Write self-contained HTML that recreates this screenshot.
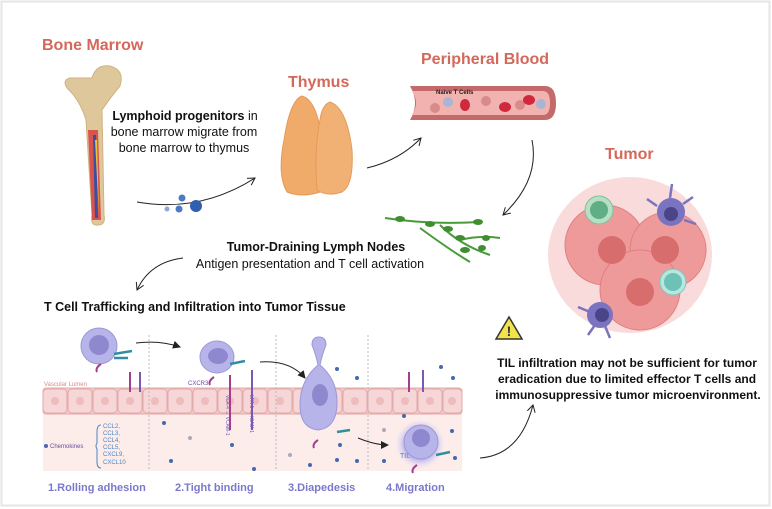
<!DOCTYPE html>
<html><head><meta charset="utf-8"><style>
html,body{margin:0;padding:0;background:#fff;}
svg{display:block;font-family:"Liberation Sans",sans-serif;}
</style></head><body>
<svg width="772" height="509" viewBox="0 0 772 509" xmlns="http://www.w3.org/2000/svg">
<defs>
<marker id="ah" markerWidth="10" markerHeight="10" refX="8" refY="5" orient="auto" markerUnits="userSpaceOnUse">
<path d="M1,1 L8,5 L1,9" fill="none" stroke="#222" stroke-width="1"/></marker>
<marker id="af" markerWidth="8" markerHeight="8" refX="7" refY="4" orient="auto" markerUnits="userSpaceOnUse">
<path d="M0,0 L8,4 L0,8z" fill="#222"/></marker>
<radialGradient id="glow"><stop offset="0.6" stop-color="#b9b6ee"/><stop offset="1" stop-color="#fdeeee" stop-opacity="0"/></radialGradient>
</defs>
<rect x="0" y="0" width="772" height="509" fill="#fff"/>
<rect x="1.5" y="1.5" width="768" height="504" fill="none" stroke="#e6e6e6" stroke-width="2"/>

<g fill="#d4685a" font-weight="bold">
<text x="42" y="50" font-size="16">Bone Marrow</text>
<text x="288" y="87" font-size="16">Thymus</text>
<text x="421" y="64" font-size="16">Peripheral Blood</text>
<text x="605" y="159" font-size="16">Tumor</text>
</g>

<path d="M67,88 Q62,80 70,78 L92,78 Q96,64 110,66 Q125,70 120,86 Q110,98 102,110 L104,215 Q106,225 98,225 Q90,226 92,215 L86,120 Q80,100 67,88z" fill="#dfc79c" stroke="#cfb282"/>
<path d="M88,130 L98,130 L101,220 L92,220z" fill="#d9544e"/>
<path d="M93,135 L96,135 L98,218 L95,218z" fill="#3a4fa0"/>
<path d="M95,140 L97,140 L99,216z" fill="#e8c43a"/>

<g font-size="12.5" fill="#111" text-anchor="middle">
<text x="185" y="120"><tspan font-weight="bold">Lymphoid progenitors</tspan> in</text>
<text x="184" y="136">bone marrow migrate from</text>
<text x="184" y="152">bone marrow to thymus</text>
</g>
<path d="M137,202 Q200,213 255,178" fill="none" stroke="#222" marker-end="url(#ah)"/>
<circle cx="182" cy="198" r="3.5" fill="#4b7bc4"/><circle cx="179" cy="209" r="3.5" fill="#4b7bc4"/>
<circle cx="167" cy="209" r="2.5" fill="#8aa8dc"/><circle cx="196" cy="206" r="6" fill="#2f5fad"/>

<path d="M302,96 Q317,100 322,140 Q327,180 320,192 Q302,198 287,192 Q277,175 284,140 Q290,100 302,96z" fill="#f0ab6a" stroke="#e49a5a"/>
<path d="M330,102 Q347,108 352,150 Q354,185 342,192 Q327,197 317,190 Q314,150 320,120 Q322,105 330,102z" fill="#f2b174" stroke="#e49a5a"/>

<path d="M410,86 L545,86 Q556,86 556,103 Q556,120 545,120 L410,120 Q420,103 410,86z" fill="#c46a6a"/>
<path d="M412,91 L543,91 Q550,91 550,103 Q550,115 543,115 L412,115 Q420,103 412,91z" fill="#f2b2b0"/>
<text x="436" y="94" font-size="6" font-weight="bold" fill="#222">Naive T Cells</text>
<circle cx="435" cy="108" r="5" fill="#d98a8a"/><circle cx="448" cy="102" r="5" fill="#a8b5d4"/>
<ellipse cx="465" cy="105" rx="5" ry="6" fill="#d0293d"/><circle cx="486" cy="101" r="5" fill="#d98a8a"/>
<ellipse cx="505" cy="107" rx="6" ry="5" fill="#d0293d"/><circle cx="520" cy="105" r="5" fill="#d98a8a"/>
<ellipse cx="529" cy="100" rx="6" ry="5" fill="#d0293d"/><circle cx="541" cy="104" r="5" fill="#a8b5d4"/>

<path d="M367,168 Q400,160 421,138" fill="none" stroke="#222" marker-end="url(#ah)"/>
<path d="M532,140 Q540,180 503,215" fill="none" stroke="#222" marker-end="url(#ah)"/>

<g stroke="#4a9a3a" stroke-width="2" fill="none">
<path d="M385,218 Q430,225 480,222"/><path d="M440,225 Q460,245 490,255"/><path d="M420,228 Q450,250 470,262"/><path d="M460,240 Q480,235 500,238"/>
</g>
<g fill="#3f8f30"><ellipse cx="400" cy="219" rx="5" ry="3"/><ellipse cx="430" cy="224" rx="5" ry="3"/><ellipse cx="448" cy="229" rx="5" ry="3"/><ellipse cx="460" cy="238" rx="5" ry="3"/><ellipse cx="478" cy="222" rx="5" ry="3"/><ellipse cx="465" cy="250" rx="5" ry="3"/><ellipse cx="482" cy="248" rx="4" ry="3"/><ellipse cx="486" cy="238" rx="4" ry="3"/></g>
<text x="316" y="251" font-size="12.5" font-weight="bold" fill="#111" text-anchor="middle">Tumor-Draining Lymph Nodes</text>
<text x="310" y="268" font-size="12.5" fill="#111" text-anchor="middle">Antigen presentation and T cell activation</text>
<path d="M183,258 Q150,262 137,290" fill="none" stroke="#222" marker-end="url(#ah)"/>
<text x="44" y="311" font-size="12.5" font-weight="bold" fill="#111">T Cell Trafficking and Infiltration into Tumor Tissue</text>

<g>
<ellipse cx="630" cy="255" rx="82" ry="78" fill="#f6cccc" opacity="0.7"/>
<circle cx="605" cy="245" r="40" fill="#ef9a9a" stroke="#e07f7f"/>
<circle cx="668" cy="250" r="38" fill="#ef9a9a" stroke="#e07f7f"/>
<circle cx="640" cy="290" r="40" fill="#ef9a9a" stroke="#e07f7f"/>
<circle cx="612" cy="250" r="14" fill="#d86d6d"/><circle cx="665" cy="250" r="14" fill="#d86d6d"/><circle cx="640" cy="292" r="14" fill="#d86d6d"/>
<circle cx="599" cy="210" r="14" fill="#b6dfc4" stroke="#7cc49a"/><circle cx="599" cy="210" r="9" fill="#5fae85"/>
<circle cx="673" cy="282" r="13" fill="#b8e6e0" stroke="#78c8bd"/><circle cx="673" cy="282" r="9" fill="#6cc2b4"/>
<circle cx="671" cy="212" r="14" fill="#7a73c0"/><circle cx="671" cy="214" r="7" fill="#4b4488"/>
<circle cx="600" cy="315" r="13" fill="#7a73c0"/><circle cx="602" cy="315" r="7" fill="#4b4488"/>
<g stroke="#7a73c0" stroke-width="2.5"><path d="M670,198 L672,184M683,204 L693,197M684,220 L696,224M657,206 L647,199M590,312 L578,307M605,326 L610,338M595,325 L588,335"/></g>
</g>

<path d="M496,339 L509,317 L522,339z" fill="#f2e34a" stroke="#333" stroke-width="1.5"/>
<text x="509" y="336" font-size="14" font-weight="bold" text-anchor="middle" fill="#333">!</text>
<g font-size="12" font-weight="bold" fill="#111" text-anchor="middle">
<text x="627" y="367">TIL infiltration may not be sufficient for tumor</text>
<text x="627" y="383">eradication due to limited effector T cells and</text>
<text x="628" y="399">immunosuppressive tumor microenvironment.</text>
</g>
<path d="M480,458 Q520,455 533,405" fill="none" stroke="#222" marker-end="url(#ah)"/>

<rect x="43" y="412" width="419" height="59" fill="#fcecea"/>
<rect x="43" y="388" width="419" height="26" rx="3" fill="#f2c9c9" stroke="#e3aaaa"/>
<g fill="#f6d6d6" stroke="#e3aaaa">
<rect x="43" y="389" width="24" height="24" rx="4"/><rect x="68" y="389" width="24" height="24" rx="4"/><rect x="93" y="389" width="24" height="24" rx="4"/><rect x="118" y="389" width="24" height="24" rx="4"/><rect x="143" y="389" width="24" height="24" rx="4"/><rect x="168" y="389" width="24" height="24" rx="4"/><rect x="193" y="389" width="24" height="24" rx="4"/><rect x="218" y="389" width="24" height="24" rx="4"/><rect x="243" y="389" width="24" height="24" rx="4"/><rect x="268" y="389" width="24" height="24" rx="4"/><rect x="293" y="389" width="24" height="24" rx="4"/><rect x="318" y="389" width="24" height="24" rx="4"/><rect x="343" y="389" width="24" height="24" rx="4"/><rect x="368" y="389" width="24" height="24" rx="4"/><rect x="393" y="389" width="24" height="24" rx="4"/><rect x="418" y="389" width="24" height="24" rx="4"/><rect x="443" y="389" width="19" height="24" rx="4"/>
</g>
<g fill="#eebcbc"><circle cx="55" cy="401" r="4"/><circle cx="80" cy="401" r="4"/><circle cx="105" cy="401" r="4"/><circle cx="130" cy="401" r="4"/><circle cx="155" cy="401" r="4"/><circle cx="180" cy="401" r="4"/><circle cx="205" cy="401" r="4"/><circle cx="230" cy="401" r="4"/><circle cx="255" cy="401" r="4"/><circle cx="280" cy="401" r="4"/><circle cx="305" cy="401" r="4"/><circle cx="355" cy="401" r="4"/><circle cx="380" cy="401" r="4"/><circle cx="405" cy="401" r="4"/><circle cx="430" cy="401" r="4"/><circle cx="452" cy="401" r="4"/></g>
<g stroke="#bbb" stroke-dasharray="2,2"><path d="M149,335 V471M276,335 V471M368,335 V471"/></g>
<text x="44" y="386" font-size="6" fill="#d88">Vascular Lumen</text>
<text x="188" y="385" font-size="6" fill="#6a4c9c">CXCR3</text>
<circle cx="99" cy="346" r="18" fill="#b7b4ea" stroke="#9c98d8"/><circle cx="99" cy="345" r="10" fill="#8f88cf"/>
<ellipse cx="217" cy="357" rx="17" ry="16" fill="#b7b4ea" stroke="#9c98d8"/><ellipse cx="218" cy="356" rx="10" ry="8" fill="#8f88cf"/>
<path d="M318,365 Q316,355 312,345 Q312,337 319,337 Q326,337 326,345 Q322,355 320,365 Q338,380 337,405 Q336,428 318,430 Q300,428 300,405 Q300,380 318,365z" fill="#b7b4ea" stroke="#9c98d8"/><ellipse cx="320" cy="395" rx="8" ry="11" fill="#8f88cf"/>
<circle cx="420" cy="444" r="26" fill="url(#glow)"/><circle cx="421" cy="442" r="17" fill="#b7b4ea" stroke="#9c98d8"/><circle cx="421" cy="438" r="9" fill="#8f88cf"/>
<text x="400" y="458" font-size="7" fill="#4a86c5">TIL</text>
<g stroke="#2f8fa0" stroke-width="2.5" fill="none"><path d="M114,354 L132,351M114,358 L128,358M230,364 L245,361M337,432 L350,430M436,455 L450,452"/></g>
<g stroke="#a33d8e" stroke-width="2" fill="none"><path d="M101,364 Q95,368 97,372M214,377 Q208,381 210,385M318,440 Q312,444 314,448M417,465 Q411,469 413,473"/>
<path d="M130,372 V392M230,375 V430M409,372 V392"/></g>
<g stroke="#7a58b8" stroke-width="2" fill="none"><path d="M140,372 V392M252,370 V430M423,370 V392"/></g>
<text x="226" y="395" font-size="5" fill="#7a58b8" transform="rotate(90 226 395)">VLA-4 ↔ VCAM-1</text>
<text x="250" y="395" font-size="5" fill="#7a58b8" transform="rotate(90 250 395)">LFA-1 ↔ ICAM-1</text>
<path d="M136,343 Q160,340 180,347" fill="none" stroke="#222" marker-end="url(#af)"/>
<path d="M260,362 Q290,360 305,378" fill="none" stroke="#222" marker-end="url(#af)"/>
<path d="M358,438 Q375,445 388,445" fill="none" stroke="#222" marker-end="url(#af)"/>
<circle cx="46" cy="446" r="2" fill="#4668b0"/>
<text x="50" y="448" font-size="6" fill="#6a4c9c">Chemokines</text>
<path d="M101,425 Q97,425 97,432 L97,443 Q95,446 97,449 L97,462 Q97,468 101,468" fill="none" stroke="#4a86c5"/>
<g font-size="6" fill="#4a86c5"><text x="103" y="428">CCL2,</text><text x="103" y="435">CCL3,</text><text x="103" y="442">CCL4,</text><text x="103" y="449">CCL5,</text><text x="103" y="456">CXCL9,</text><text x="103" y="464">CXCL10</text></g>
<g fill="#4668b0"><circle cx="164" cy="423" r="2"/><circle cx="171" cy="461" r="2"/><circle cx="232" cy="445" r="2"/><circle cx="254" cy="469" r="2"/><circle cx="337" cy="369" r="2"/><circle cx="357" cy="378" r="2"/><circle cx="310" cy="465" r="2"/><circle cx="337" cy="460" r="2"/><circle cx="357" cy="461" r="2"/><circle cx="384" cy="461" r="2"/><circle cx="441" cy="367" r="2"/><circle cx="453" cy="378" r="2"/><circle cx="404" cy="416" r="2"/><circle cx="452" cy="431" r="2"/><circle cx="455" cy="458" r="2"/><circle cx="340" cy="445" r="2"/></g>
<g fill="#aab"><circle cx="190" cy="438" r="2"/><circle cx="290" cy="455" r="2"/><circle cx="384" cy="430" r="2"/></g>
<g font-size="11" font-weight="bold" fill="#7b77cc">
<text x="48" y="491">1.Rolling adhesion</text>
<text x="175" y="491">2.Tight binding</text>
<text x="288" y="491">3.Diapedesis</text>
<text x="386" y="491">4.Migration</text>
</g>
</svg>
</body></html>
